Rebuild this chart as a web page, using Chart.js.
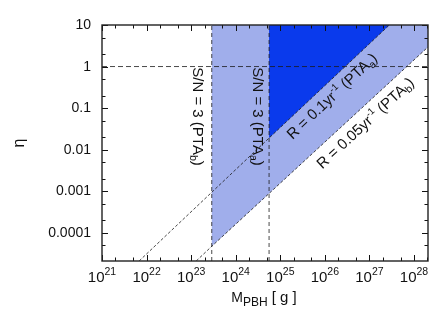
<!DOCTYPE html>
<html><head><meta charset="utf-8">
<script src="https://cdn.jsdelivr.net/npm/chart.js@4/dist/chart.umd.min.js"></script>
<style>html,body{margin:0;padding:0;background:#fff;overflow:hidden}#wrap{width:436px;height:329px;position:relative}</style>
</head><body><div id="wrap"><canvas id="c"></canvas></div>
<script>
// ---- data ----
const massTicks = [1e21, 1e22, 1e23, 1e24, 1e25, 1e26, 1e27, 1e28];
const massTickExponents = ['21', '22', '23', '24', '25', '26', '27', '28'];
const etaTicks = [1e-4, 1e-3, 1e-2, 1e-1, 1, 10];
const etaTickLabels = ['0.0001', '0.001', '0.01', '0.1', '1', '10'];
const minorTickMultipliers = [2, 5];
const massRange = [1e21, 2.06e28];
const etaRange = [2.08e-5, 10];
const snPTAbMass = 2.9e23;   // S/N = 3 (PTA_b)
const snPTAaMass = 5.6e24;   // S/N = 3 (PTA_a)
const etaReference = 1;
const rateA_mass = [6.8e21, 5.6e24, 2.8e27];   // R = 0.1 /yr (PTA_a)
const rateA_eta  = [2.08e-5, 0.019, 10];
const rateB_mass = [1.3e23, 2.9e23, 2.06e28];  // R = 0.05 /yr (PTA_b)
const rateB_eta  = [2.08e-5, 4.7e-5, 2.95];

const LIGHT = 'rgb(160,174,235)';
const DARK = 'rgb(10,58,236)';
const LINE = '#1a1a1a';
const FONT = '"Liberation Sans", Arial, sans-serif';

const pts = (xs, ys) => xs.map((x, i) => ({x, y: ys[i]}));

const lineDs = (data, dash) => ({
  data, borderColor: LINE, borderWidth: 0.8, borderDash: dash, pointRadius: 0,
  fill: false, tension: 0, order: 0
});

const datasets = [
  { // light region
    data: [{x: snPTAbMass, y: etaRange[1]}, {x: massRange[1], y: etaRange[1]},
           {x: rateB_mass[2], y: rateB_eta[2]}, {x: rateB_mass[1], y: rateB_eta[1]}],
    backgroundColor: LIGHT, borderWidth: 0, pointRadius: 0, fill: 'shape', order: 3
  },
  { // dark region
    data: [{x: snPTAaMass, y: etaRange[1]}, {x: rateA_mass[2], y: rateA_eta[2]},
           {x: rateA_mass[1], y: rateA_eta[1]}],
    backgroundColor: DARK, borderWidth: 0, pointRadius: 0, fill: 'shape', order: 2
  },
  lineDs([{x: snPTAbMass, y: etaRange[0]}, {x: snPTAbMass, y: etaRange[1]}], [4, 3]),
  lineDs([{x: snPTAaMass, y: etaRange[0]}, {x: snPTAaMass, y: etaRange[1]}], [4, 3]),
  lineDs([{x: massRange[0], y: etaReference}, {x: massRange[1], y: etaReference}], [5, 3]),
  lineDs(pts(rateA_mass, rateA_eta), [3, 2]),
  lineDs(pts(rateB_mass, rateB_eta), [3, 2])
];

function drawRich(ctx, parts, cx, cy, angle, base) {
  let w = 0;
  parts.forEach(p => { ctx.font = p.size + 'px ' + FONT; p.w = ctx.measureText(p.t).width; w += p.w; });
  ctx.save();
  ctx.translate(cx, cy);
  ctx.rotate(angle);
  ctx.textAlign = 'left';
  ctx.textBaseline = 'alphabetic';
  let x = -w / 2;
  parts.forEach(p => {
    ctx.font = p.size + 'px ' + FONT;
    ctx.fillText(p.t, x, base + (p.dy || 0));
    x += p.w;
  });
  ctx.restore();
}

const decor = {
  id: 'decor',
  afterDatasetsDraw(chart) {
    const ctx = chart.ctx, a = chart.chartArea, xs = chart.scales.x, ys = chart.scales.y;
    ctx.save();
    // ticks
    ctx.strokeStyle = '#111';
    ctx.lineWidth = 1;
    ctx.beginPath();
    const xMinor = [], yMinor = [];
    massTicks.forEach(v => minorTickMultipliers.forEach(m => xMinor.push(v * m)));
    etaTicks.concat([1e-5]).forEach(v => minorTickMultipliers.forEach(m => yMinor.push(v * m)));
    const tickX = (v, len) => {
      if (v < massRange[0] || v > massRange[1]) return;
      const px = Math.round(xs.getPixelForValue(v)) + 0.5;
      ctx.moveTo(px, a.bottom); ctx.lineTo(px, a.bottom - len);
      ctx.moveTo(px, a.top); ctx.lineTo(px, a.top + len);
    };
    const tickY = (v, len) => {
      if (v < etaRange[0] || v > etaRange[1]) return;
      const py = Math.round(ys.getPixelForValue(v)) + 0.5;
      ctx.moveTo(a.left, py); ctx.lineTo(a.left + len, py);
      ctx.moveTo(a.right, py); ctx.lineTo(a.right - len, py);
    };
    massTicks.forEach(v => tickX(v, 6));
    xMinor.forEach(v => tickX(v, 3.5));
    etaTicks.forEach(v => tickY(v, 6));
    yMinor.forEach(v => tickY(v, 3.5));
    ctx.stroke();
    // frame
    ctx.lineWidth = 1.4;
    ctx.strokeStyle = '#222';
    ctx.strokeRect(a.left, a.top, a.right - a.left, a.bottom - a.top);

    ctx.fillStyle = '#111';
    // y tick labels
    ctx.font = '14px ' + FONT;
    ctx.textAlign = 'right';
    ctx.textBaseline = 'middle';
    etaTicks.forEach((v, i) => ctx.fillText(etaTickLabels[i], a.left - 11, ys.getPixelForValue(v) + 0.5));
    // x tick labels
    massTicks.forEach((v, i) => {
      const px = xs.getPixelForValue(v);
      drawRich(ctx, [{t: '10', size: 15}, {t: massTickExponents[i], size: 10.5, dy: -7}], px, 282, 0, 0);
    });
    // axis titles
    drawRich(ctx, [{t: 'M', size: 14}, {t: 'PBH', size: 12, dy: 4}, {t: ' [ g ]', size: 15}], 264, 302, 0, 0);
    drawRich(ctx, [{t: 'η', size: 16}], 19, 143, -Math.PI / 2, 5);

    // vertical labels
    const snParts = s => [{t: 'S/N = 3 (PTA', size: 15}, {t: s, size: 10.5, dy: 3}, {t: ')', size: 15}];
    drawRich(ctx, snParts('b'), xs.getPixelForValue(snPTAbMass) - 13, 116.5, Math.PI / 2, 5.3);
    drawRich(ctx, snParts('a'), xs.getPixelForValue(snPTAaMass) - 11, 116.5, Math.PI / 2, 5.3);

    // diagonal labels
    const diag = (mass, eta, cxPix, dyPix, parts) => {
      const p1x = xs.getPixelForValue(mass[1]), p1y = ys.getPixelForValue(eta[1]);
      const p2x = xs.getPixelForValue(mass[2]), p2y = ys.getPixelForValue(eta[2]);
      const ang = Math.atan2(p2y - p1y, p2x - p1x);
      const ly = p1y + (cxPix - p1x) * (p2y - p1y) / (p2x - p1x);
      drawRich(ctx, parts, cxPix, ly + dyPix, ang, 5.3);
    };
    const rParts = (r, s) => [{t: 'R = ' + r + 'yr', size: 15}, {t: '-1', size: 9.5, dy: -6.5},
                              {t: ' (PTA', size: 15}, {t: s, size: 10.5, dy: 3}, {t: ')', size: 15}];
    diag(rateA_mass, rateA_eta, 331.7, 16.6, rParts('0.1', 'a'));
    diag(rateB_mass, rateB_eta, 365, 17.7, rParts('0.05', 'b'));
    ctx.restore();
  }
};

new Chart(document.getElementById('c'), {
  type: 'line',
  data: { datasets },
  options: {
    responsive: true,
    maintainAspectRatio: false,
    animation: false,
    layout: { padding: { left: 102, top: 25, right: 8, bottom: 68 } },
    plugins: { legend: { display: false }, tooltip: { enabled: false } },
    scales: {
      x: { type: 'logarithmic', min: massRange[0], max: massRange[1], display: false },
      y: { type: 'logarithmic', min: etaRange[0], max: etaRange[1], display: false }
    }
  },
  plugins: [decor]
});
</script>
</body></html>
